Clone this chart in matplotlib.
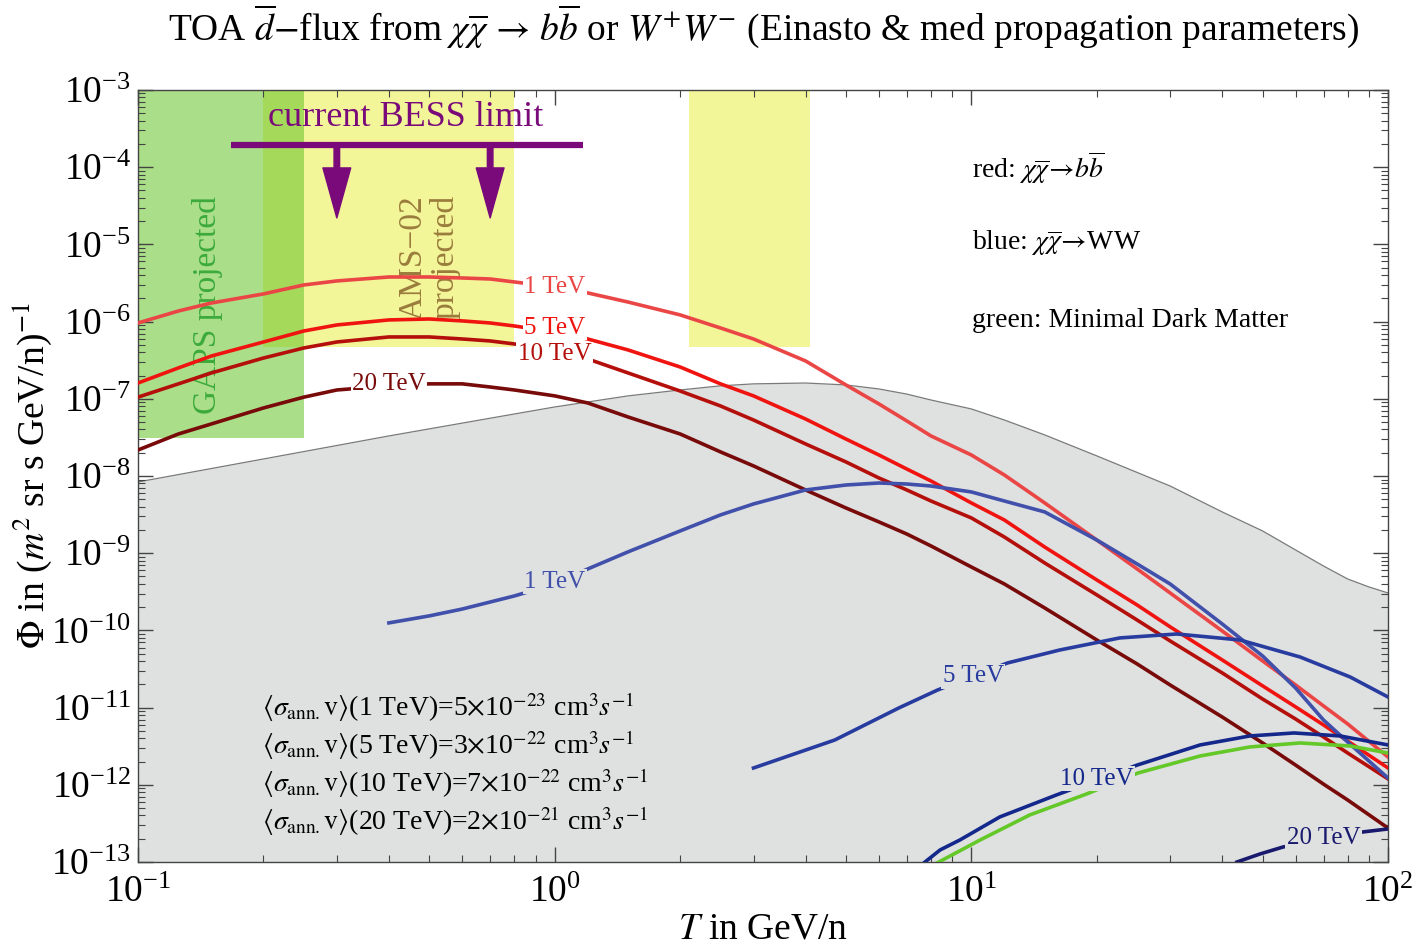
import numpy as np
import matplotlib
matplotlib.use("Agg")
import matplotlib.pyplot as plt
from matplotlib.ticker import LogLocator, NullFormatter

plt.rcParams['font.family'] = ['Liberation Serif', 'DejaVu Serif']
plt.rcParams['mathtext.fontset'] = 'stix'

# ---- data (T in GeV/n, flux in (m^2 sr s GeV/n)^-1) ----
T_bb = [0.1, 0.125, 0.15, 0.2, 0.25, 0.3, 0.4, 0.5, 0.6, 0.7, 0.8, 1.0, 1.2, 1.5, 2, 2.5,
        3, 4, 5, 6, 7, 8, 10, 12, 15, 20, 25, 30, 40, 50, 60, 70, 80, 100]
bb_1TeV = [9.59e-7, 1.37e-6, 1.74e-6, 2.28e-6, 2.98e-6, 3.36e-6, 3.78e-6, 3.78e-6, 3.67e-6,
           3.56e-6, 3.26e-6, 2.81e-6, 2.35e-6, 1.79e-6, 1.22e-6, 8.26e-7, 5.95e-7, 3.09e-7,
           1.51e-7, 8.57e-8, 5.16e-8, 3.30e-8, 1.87e-8, 1.03e-8, 4.47e-9, 1.48e-9, 6.24e-10,
           3.05e-10, 9.82e-11, 4.02e-11, 1.96e-11, 1.05e-11, 6.14e-12, 2.29e-12]
bb_5TeV = [1.60e-7, 2.51e-7, 3.58e-7, 5.44e-7, 7.55e-7, 9.04e-7, 1.05e-6, 1.08e-6, 1.02e-6,
           9.59e-7, 8.77e-7, 7.33e-7, 5.95e-7, 4.29e-7, 2.58e-7, 1.56e-7, 1.09e-7, 5.47e-8,
           3.01e-8, 1.87e-8, 1.23e-8, 8.61e-9, 4.47e-9, 2.69e-9, 1.20e-9, 4.50e-10, 2.13e-10,
           1.11e-10, 4.14e-11, 1.91e-11, 1.02e-11, 5.96e-12, 3.69e-12, 1.65e-12]
bb_10TeV = [1.05e-7, 1.56e-7, 2.16e-7, 3.37e-7, 4.55e-7, 5.44e-7, 6.32e-7, 6.32e-7, 5.95e-7,
            5.61e-7, 5.13e-7, 4.16e-7, 3.28e-7, 2.16e-7, 1.26e-7, 8.07e-8, 5.31e-8, 2.60e-8,
            1.52e-8, 9.42e-9, 6.59e-9, 4.74e-9, 2.86e-9, 1.62e-9, 7.46e-10, 2.88e-10, 1.36e-10,
            7.29e-11, 2.81e-11, 1.29e-11, 7.11e-12, 4.16e-12, 2.58e-12, 1.19e-12]
bb_20TeV = [2.17e-8, 3.50e-8, 4.72e-8, 7.60e-8, 1.05e-7, 1.30e-7, 1.47e-7, 1.56e-7, 1.56e-7,
            1.42e-7, 1.30e-7, 1.09e-7, 8.83e-8, 5.81e-8, 3.50e-8, 2.05e-8, 1.35e-8, 6.59e-9,
            3.85e-9, 2.54e-9, 1.77e-9, 1.24e-9, 6.62e-10, 3.99e-10, 1.95e-10, 7.51e-11, 3.67e-11,
            1.96e-11, 7.55e-12, 3.48e-12, 1.80e-12, 1.02e-12, 6.35e-13, 2.75e-13]

T_ww1 = [0.4, 0.5, 0.6, 0.7, 0.8, 1.0, 1.2, 1.5, 2, 2.5, 3, 4, 5, 6, 7, 8, 10, 12, 15, 20,
         25, 30, 40, 50, 60, 70, 80, 100]
ww_1TeV = [1.25e-10, 1.54e-10, 1.89e-10, 2.33e-10, 2.79e-10, 3.99e-10, 6.24e-10, 1.04e-9,
           1.94e-9, 3.13e-9, 4.34e-9, 6.59e-9, 7.64e-9, 8.11e-9, 7.87e-9, 7.41e-9, 6.21e-9,
           4.74e-9, 3.42e-9, 1.48e-9, 7.24e-10, 3.99e-10, 1.21e-10, 4.66e-11, 1.79e-11,
           6.90e-12, 3.58e-12, 1.22e-12]
T_ww5 = [3.0, 4.7, 6.7, 8.3, 12.2, 16.3, 22.7, 31.1, 44.1, 61.5, 81.1, 100]
ww_5TeV = [1.65e-12, 3.80e-12, 9.9e-12, 1.69e-11, 3.78e-11, 5.57e-11, 7.98e-11, 8.98e-11,
           7.51e-11, 4.52e-11, 2.49e-11, 1.37e-11]
T_ww10 = [7.74, 8.41, 9.39, 11.7, 16.0, 25.0, 35.4, 46.6, 59.5, 76.7, 100]
ww_10TeV = [1.0e-13, 1.43e-13, 1.93e-13, 3.83e-13, 7.38e-13, 1.80e-12, 3.28e-12, 4.29e-12,
            4.69e-12, 4.29e-12, 3.28e-12]
T_ww20 = [43.4, 49.3, 55.9, 69.8, 87.1, 100]
ww_20TeV = [1.0e-13, 1.27e-13, 1.56e-13, 1.99e-13, 2.45e-13, 2.68e-13]
T_mdm = [8.27, 10.5, 13.8, 18.9, 25.1, 35.4, 46.6, 61.5, 81.1, 100]
mdm = [9.7e-14, 1.93e-13, 4.06e-13, 7.60e-13, 1.42e-12, 2.36e-12, 3.09e-12, 3.48e-12,
       3.18e-12, 2.58e-12]

T_bg = [0.1, 0.2, 0.4, 0.8, 1.0, 1.5, 2, 2.5, 3, 4, 5, 6, 7, 8, 10, 12, 15, 20, 30, 40,
        50, 60, 70, 80, 90, 100]
bg = [8.36e-9, 1.66e-8, 3.30e-8, 6.35e-8, 7.83e-8, 1.09e-7, 1.30e-7, 1.47e-7, 1.56e-7,
      1.60e-7, 1.51e-7, 1.34e-7, 1.15e-7, 9.64e-8, 7.38e-8, 5.31e-8, 3.40e-8, 1.82e-8,
      7.41e-9, 3.42e-9, 1.94e-9, 1.10e-9, 6.82e-10, 4.63e-10, 3.65e-10, 3.05e-10]

# experimental regions
gaps_T = [0.1, 0.25]
gaps_flux = [3.1e-8, 1e-3]
ams_T1 = [0.2, 0.8]
ams_T2 = [2.1, 4.1]
ams_flux = [4.7e-7, 1e-3]
bess_T = [0.167, 1.17]
bess_flux = 1.94e-4
bess_arrow_T = [0.3, 0.7]
bess_arrow_tip = 2.2e-5

xsec_lines = [
    r'$\langle\sigma_{\rm ann.}{\rm v}\rangle$(1 TeV)=5$\times$10$^{-23}$ cm$^3$$s^{-1}$',
    r'$\langle\sigma_{\rm ann.}{\rm v}\rangle$(5 TeV)=3$\times$10$^{-22}$ cm$^3$$s^{-1}$',
    r'$\langle\sigma_{\rm ann.}{\rm v}\rangle$(10 TeV)=7$\times$10$^{-22}$ cm$^3$$s^{-1}$',
    r'$\langle\sigma_{\rm ann.}{\rm v}\rangle$(20 TeV)=2$\times$10$^{-21}$ cm$^3$$s^{-1}$',
]

GREY = '#dfe0e0'
PURPLE = '#7a0a7a'

fig = plt.figure(figsize=(14.2, 9.49), dpi=100)
ax = fig.add_axes([0.0972, 0.0917, 0.8803, 0.8135])
ax.set_xscale('log')
ax.set_yscale('log')
ax.set_xlim(0.1, 100)
ax.set_ylim(1e-13, 1e-3)

# bands
ax.fill_between(ams_T1, ams_flux[0], ams_flux[1], color='#f2f598', lw=0, zorder=0.5)
ax.fill_between(ams_T2, ams_flux[0], ams_flux[1], color='#f2f598', lw=0, zorder=0.5)
ax.fill_between(gaps_T, gaps_flux[0], gaps_flux[1], color='#64c327', alpha=0.55, lw=0, zorder=0.6)

# background
ax.fill_between(T_bg, 1e-13, bg, color=GREY, lw=0, zorder=1)
ax.plot(T_bg, bg, color='#7a7a7a', lw=0.9, zorder=1.1)

lw = 2.6
ax.plot(T_bb, bb_1TeV, color='#eb4646', lw=lw, zorder=3)
ax.plot(T_bb, bb_5TeV, color='#f01410', lw=lw, zorder=3)
ax.plot(T_bb, bb_10TeV, color='#b40f0a', lw=lw, zorder=3)
ax.plot(T_bb, bb_20TeV, color='#780a0a', lw=lw, zorder=3)
ax.plot(T_ww1, ww_1TeV, color='#4150aa', lw=lw, zorder=3)
ax.plot(T_ww5, ww_5TeV, color='#283ca0', lw=lw, zorder=3)
ax.plot(T_mdm, mdm, color='#64c828', lw=lw, zorder=3)
ax.plot(T_ww10, ww_10TeV, color='#14288c', lw=lw, zorder=3.1)
ax.plot(T_ww20, ww_20TeV, color='#19196e', lw=lw, zorder=3)

# inline curve labels
def lab(x, y, s, c, bg_c):
    ax.text(x, y, s, color=c, fontsize=18, ha='center', va='center', zorder=5,
            bbox=dict(facecolor=bg_c, edgecolor='none', pad=1.0))

lab(1.0, 2.8e-6, '1 TeV', '#eb4646', 'white')
lab(1.0, 8.26e-7, '5 TeV', '#f01410', 'white')
lab(1.0, 3.8e-7, '10 TeV', '#b40f0a', 'white')
lab(0.4, 1.55e-7, '20 TeV', '#780a0a', 'white')
lab(1.0, 4.24e-10, '1 TeV', '#4150aa', GREY)
lab(10.1, 2.56e-11, '5 TeV', '#283ca0', GREY)
lab(20.0, 1.19e-12, '10 TeV', '#14288c', GREY)
lab(70.0, 2.05e-13, '20 TeV', '#19196e', GREY)

# band labels
ax.text(0.147, 1.64e-6, 'GAPS projected', color='#3caa3c', fontsize=24,
        rotation=90, ha='center', va='center', zorder=2)
ax.text(0.5, 6.8e-6, 'AMS\u221202\nprojected', color='#9a7d3c', fontsize=24,
        rotation=90, ha='center', va='center', linespacing=1.05, zorder=2)

# BESS limit
ax.plot(bess_T, [bess_flux, bess_flux], color=PURPLE, lw=4.5, solid_capstyle='butt', zorder=4)
for xa in bess_arrow_T:
    ax.annotate('', xy=(xa, bess_arrow_tip), xytext=(xa, bess_flux), zorder=4,
                arrowprops=dict(facecolor=PURPLE, edgecolor=PURPLE, width=4.0,
                                headwidth=20, headlength=36, shrink=0))
ax.text(0.44, 4.34e-4, 'current BESS limit', color=PURPLE, fontsize=26,
        ha='center', va='center', zorder=4)

# legend-like annotations
ax.text(0.667, 0.899, r'red: $\chi\overline{\chi}\!\rightarrow\! b\overline{b}$',
        transform=ax.transAxes, fontsize=20, va='center')
ax.text(0.667, 0.802, r'blue: $\chi\overline{\chi}\!\rightarrow\!$WW',
        transform=ax.transAxes, fontsize=20, va='center')
ax.text(0.667, 0.702, 'green: Minimal Dark Matter',
        transform=ax.transAxes, fontsize=20, va='center')

for i, s in enumerate(xsec_lines):
    ax.text(0.0992, 0.201 - 0.0495 * i, s, transform=ax.transAxes, fontsize=20, va='center')

# axes cosmetics
ax.xaxis.set_major_locator(LogLocator(base=10, numticks=20))
ax.yaxis.set_major_locator(LogLocator(base=10, numticks=20))
ax.xaxis.set_minor_locator(LogLocator(base=10, subs=np.arange(2, 10), numticks=20))
ax.yaxis.set_minor_locator(LogLocator(base=10, subs=np.arange(2, 10), numticks=20))
ax.xaxis.set_minor_formatter(NullFormatter())
ax.yaxis.set_minor_formatter(NullFormatter())
ax.tick_params(which='both', direction='in', top=True, right=True, labelsize=27, color='#444444')
ax.tick_params(which='major', length=11, width=1.0, pad=5)
ax.tick_params(axis='x', which='major', pad=10)
ax.tick_params(which='minor', length=5, width=0.8)
for sp in ax.spines.values():
    sp.set_color('#444444')
    sp.set_linewidth(1.0)

ax.set_xlabel(r'$T$ in GeV/n', fontsize=27, labelpad=1)
ax.set_ylabel(r'$\Phi$ in ($m^2$ sr s GeV/n)$^{-1}$', fontsize=27, labelpad=-2)

fig.text(0.538, 0.972, r'TOA $\overline{d}$$-$flux from $\chi\overline{\chi}\,\rightarrow\,b\overline{b}$ or $W^{+}W^{-}$ (Einasto & med propagation parameters)',
         fontsize=27, ha='center', va='center')

fig.savefig('out.png', dpi=100)
